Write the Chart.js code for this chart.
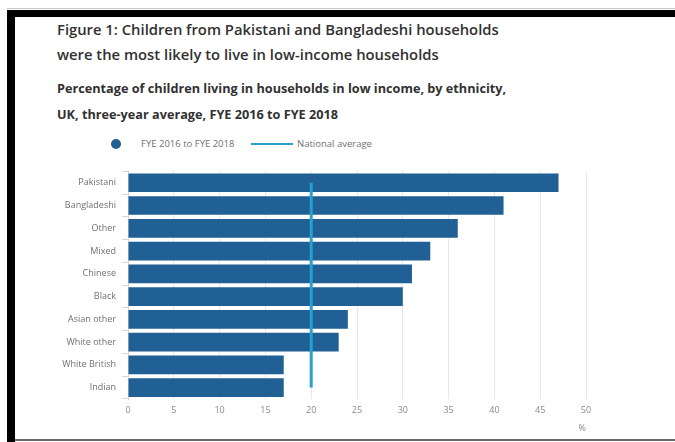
<!DOCTYPE html>
<html>
<head>
<meta charset="utf-8">
<script src="https://cdn.jsdelivr.net/npm/chart.js@4.4.1/dist/chart.umd.min.js"></script>
<style>
  body { margin: 0; background: #fff; width: 675px; height: 442px; overflow: hidden; position: relative; font-family: 'Open Sans', sans-serif; }
  .edge-top { position: absolute; left: 7px; right: 0; top: 8px; height: 1px; background: #c8c8c8; }
  .frame-top { position: absolute; left: 7px; right: 0; top: 10px; height: 7px; background: #000; }
  .frame-left { position: absolute; left: 7px; width: 8px; top: 10px; height: 432px; background: #000; }
  .frame-bottom { position: absolute; left: 15px; right: 0; top: 439px; height: 2px; background: #6a6a6a; }
  .title { position: absolute; left: 57px; top: 17px; font-size: 14.8px; font-weight: 600; line-height: 25px; color: #323132; }
  .subtitle { position: absolute; left: 57px; top: 75px; font-size: 12.7px; font-weight: 700; line-height: 26px; color: #323132; }
  .legend { position: absolute; top: 137px; left: 0; height: 14px; font-size: 9.5px; color: #707070; }
  .legend span { position: absolute; top: 0; line-height: 14px; white-space: nowrap; }
  .dot { position: absolute; left: 111px; top: 139px; width: 10px; height: 10px; border-radius: 50%; background: #206095; }
  .avg { position: absolute; left: 251px; top: 143px; width: 42px; height: 2px; background: #27a0cc; }
  #wrap { position: absolute; left: 0; top: 160px; width: 675px; height: 280px; }
</style>
</head>
<body>
<div class="edge-top"></div>
<div class="frame-top"></div>
<div class="frame-left"></div>
<div class="frame-bottom"></div>

<div class="title">Figure 1: Children from Pakistani and Bangladeshi households<br>were the most likely to live in low-income households</div>
<div class="subtitle">Percentage of children living in households in low income, by ethnicity,<br>UK, three-year average, FYE 2016 to FYE 2018</div>

<div class="dot"></div>
<div class="legend"><span style="left:141px">FYE 2016 to FYE 2018</span><span style="left:297px">National average</span></div>
<div class="avg"></div>

<div id="wrap"><canvas id="chart"></canvas></div>

<script>
const categories = ['Pakistani', 'Bangladeshi', 'Other', 'Mixed', 'Chinese', 'Black', 'Asian other', 'White other', 'White British', 'Indian'];
const lowIncomeShare = [47, 41, 36, 33, 31, 30, 24, 23, 17, 17];
const nationalAverage = [20, 20, 20, 20, 20, 20, 20, 20, 20, 20];
const xMax = 50;
const xStep = 5;

const ctx = document.getElementById('chart').getContext('2d');

new Chart(ctx, {
  type: 'bar',
  data: {
    labels: categories,
    datasets: [
      {
        type: 'line',
        label: 'National average',
        data: nationalAverage,
        borderColor: '#27a0cc',
        borderWidth: 3,
        pointRadius: 0,
        fill: false,
        order: 1,
      },
      {
        label: 'FYE 2016 to FYE 2018',
        data: lowIncomeShare,
        backgroundColor: '#206095',
        barPercentage: 0.82,
        categoryPercentage: 1,
        order: 2,
      },
    ],
  },
  options: {
    indexAxis: 'y',
    responsive: true,
    maintainAspectRatio: false,
    animation: false,
    layout: { padding: { top: 9, right: 89, left: 0, bottom: 0 } },
    plugins: {
      legend: { display: false },
      tooltip: { enabled: false },
    },
    scales: {
      x: {
        min: 0,
        max: xMax,
        ticks: {
          stepSize: xStep,
          padding: 6,
          color: '#8a8a8a',
          font: { family: 'Open Sans', size: 9 },
        },
        grid: { color: '#e8e8e8', drawTicks: false },
        border: { display: false },
        title: {
          display: true,
          text: '%',
          align: 'end',
          color: '#8a8a8a',
          font: { family: 'Open Sans', size: 9 },
          padding: { top: 0, bottom: 6 },
        },
        afterFit(scale) { scale.height = 41; },
      },
      y: {
        ticks: {
          padding: 6,
          color: '#707070',
          font: { family: 'Open Sans', size: 9 },
        },
        grid: { drawOnChartArea: false, drawTicks: true, tickLength: 6, color: '#d6d6d6' },
        border: { display: true, color: '#d6d6d6' },
        afterFit(scale) { scale.width = 128; },
      },
    },
  },
});
</script>
</body>
</html>
